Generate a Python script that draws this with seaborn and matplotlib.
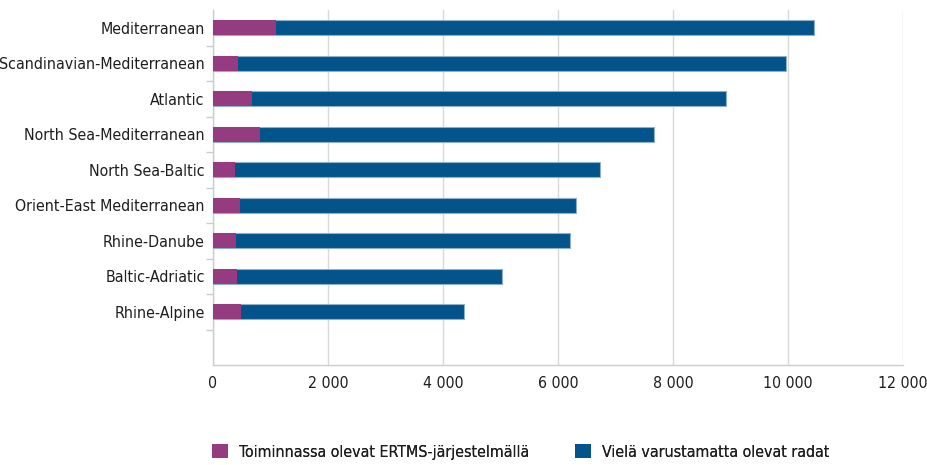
import matplotlib
matplotlib.use("Agg")
import matplotlib.pyplot as plt
from matplotlib import font_manager
import seaborn as sns
import pandas as pd
from matplotlib.patches import Patch
from matplotlib.ticker import FuncFormatter, FixedLocator

corridors = ["Mediterranean", "Scandinavian-Mediterranean", "Atlantic",
             "North Sea-Mediterranean", "North Sea-Baltic",
             "Orient-East Mediterranean", "Rhine-Danube", "Baltic-Adriatic",
             "Rhine-Alpine"]
ertms_km = [1090, 442, 673, 812, 390, 477, 407, 424, 487]
not_equipped_km = [9360, 9518, 8244, 6852, 6347, 5831, 5797, 4597, 3873]
series_labels = ["Toiminnassa olevat ERTMS-järjestelmällä",
                 "Vielä varustamatta olevat radat"]
x_ticks = [0, 2000, 4000, 6000, 8000, 10000, 12000]

purple = "#953B80"
blue = "#03548A"

# pick a condensed font if one is installed
cond = None
for f in font_manager.fontManager.ttflist:
    n = f.name.lower()
    st = str(f.stretch).lower()
    if ("condensed" in n or "narrow" in n or st in ("condensed", "semi-condensed", "extra-condensed")) \
            and f.style == "normal" and f.weight in (400, "normal", "regular"):
        cond = f
        break

sns.set_theme(style="white")
if cond is not None:
    plt.rcParams['font.family'] = [cond.name, 'DejaVu Sans']
    plt.rcParams['font.stretch'] = cond.stretch
    fs = 11.4
else:
    plt.rcParams['font.family'] = ['Roboto', 'DejaVu Sans']
    fs = 11

df = pd.DataFrame({"corridor": corridors, "ertms": ertms_km,
                   "rest": not_equipped_km})
df["total"] = df["ertms"] + df["rest"]

fig = plt.figure(figsize=(9.28, 4.65), dpi=100)
ax = fig.add_axes([213/928, 1-365/465, (903-213)/928, (365-10)/465])

sns.barplot(data=df, x="total", y="corridor", order=corridors, color=blue,
            width=0.42, edgecolor="#8fb0cc", linewidth=0.8, saturation=1,
            ax=ax, zorder=3)
sns.barplot(data=df, x="ertms", y="corridor", order=corridors, color=purple,
            width=0.42, linewidth=0, saturation=1, ax=ax, zorder=4)

ax.set_xlim(0, 12000)
ax.set_ylim(len(corridors) + 0.5, -0.5)
ax.xaxis.set_major_locator(FixedLocator(x_ticks))
ax.xaxis.set_major_formatter(FuncFormatter(lambda v, p: f"{int(v):,}".replace(",", " ")))
ax.grid(axis="x", color="#d9d9d9", linewidth=1, zorder=0)
ax.set_axisbelow(True)
ax.set_xlabel("")
ax.set_ylabel("")

for s in ["top", "right"]:
    ax.spines[s].set_visible(False)
for s in ["left", "bottom"]:
    ax.spines[s].set_color("#cccccc")
    ax.spines[s].set_linewidth(1)

ax.tick_params(axis="y", which="major", length=0, pad=6, labelsize=fs, labelcolor="#1e1e1e")
ax.yaxis.set_minor_locator(FixedLocator([i + 0.5 for i in range(len(corridors))]))
ax.tick_params(axis="y", which="minor", length=5, color="#cccccc", width=1, left=True)
ax.tick_params(axis="x", which="major", length=0, pad=8, labelsize=fs, labelcolor="#1e1e1e")

for color, label, x0 in [(purple, series_labels[0], 198), (blue, series_labels[1], 561)]:
    leg = fig.legend([Patch(facecolor=color, edgecolor="none")], [label],
                     loc="center left", bbox_to_anchor=(x0/928, 1-452/465),
                     frameon=False, fontsize=fs, handlelength=1.0, handleheight=1.0,
                     handletextpad=0.7, labelcolor="#1e1e1e")
    fig.add_artist(leg)

fig.savefig("out.png", dpi=100)
